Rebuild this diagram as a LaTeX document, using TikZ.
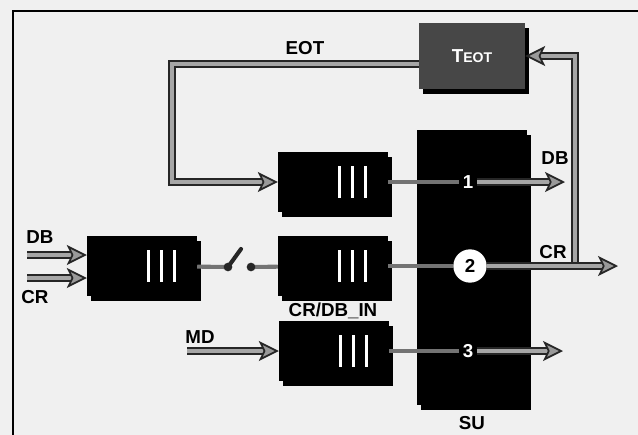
\documentclass[tikz,border=0pt]{standalone}
\usepackage{fontspec}
\setmainfont{Liberation Sans}
\usetikzlibrary{arrows.meta,shadows}
\begin{document}
\begin{tikzpicture}[x=0.3mm,y=-0.3mm,font=\fontsize{16}{18}\selectfont\bfseries]
		\tikzstyle{buffer}=[fill=black,minimum width=33mm,minimum height=18mm,inner sep=0pt,general shadow={fill=black,shadow xshift=1.2mm,shadow yshift=-1.5mm}]
		\tikzstyle{bar}=[white,line width=2.2pt]
		\tikzstyle{flow}=[draw=black!85,double=black!35,line width=1.5pt,double distance=3.2pt,-{Stealth[length=17pt,width=17pt,inset=4pt,fill=black!40]}]
		\tikzstyle{link}=[black!55,line width=3.5pt]

		\useasboundingbox (0,0) rectangle (638,435);
		\fill[black!6] (0,0) rectangle (638,435);
		\draw[line width=1.6pt] (13,440) -- (13,11) -- (640,11);

		\node[fill=black!72,minimum width=31.8mm,minimum height=20mm,text=white,general shadow={fill=black,shadow xshift=1.2mm,shadow yshift=-1.5mm}] (teot) at (472,56) {T{\fontsize{12}{13}\selectfont EOT}};
		\node[buffer,minimum height=82.5mm] (su) at (472,267) {};

		\node[buffer] (buf0) at (142,266) {};
		\node[buffer] (buf1) at (333,182) {};
		\node[buffer] (buf2) at (333,266) {};
		\node[buffer] (buf3) at (334,351) {};
		\foreach \n in {buf0,buf1,buf2,buf3}
			\foreach \dx in {18.6,22.5,26.4}
				\draw[bar] ([xshift=\dx mm,yshift=4.8mm]\n.west) -- ([xshift=\dx mm,yshift=-4.8mm]\n.west);

		\node[text=white] (n1) at (468,182) {1};
		\node[circle,fill=white,minimum size=10mm,inner sep=0pt] (n2) at (470,266) {2};
		\node[text=white] (n3) at (468,351) {3};

		% buffers into SU
		\draw[link] (buf1) -- (n1);
		\draw[link] (buf2) -- (n2);
		\draw[link] (buf3) -- (n3);

		% switch between the input buffer and CR/DB_IN
		\coordinate (swL) at (228,267);
		\coordinate (swR) at (251,267);
		\coordinate (swtip) at (241,249);
		\draw[link] (buf0) -- (swL);
		\draw[link] (swR) -- (buf2);
		\draw[black!85,line width=3.5pt,line cap=round] (swL) -- (swtip);
		\fill[black!85] (swL) circle (1.3mm) (swR) circle (1.3mm);

		% inputs
		\coordinate (dbin) at (27,255);
		\coordinate (crin) at (27,278);
		\coordinate (mdin) at (187,351);
		\draw[flow] (dbin) -- (dbin -| buf0.west);
		\draw[flow] (crin) -- (crin -| buf0.west);
		\draw[flow] (mdin) -- (buf3);

		% EOT loop
		\coordinate (eotleft) at (172,182);
		\draw[flow] ([yshift=-2.4mm]teot.west) -| (eotleft) -- (buf1.west);
		\coordinate (loopfoot) at (575,266);
		\draw[flow] (loopfoot) |- (teot.east);

		% outputs
		\coordinate (out1) at (565,182);
		\coordinate (out2) at (618,266);
		\coordinate (out3) at (563,351);
		\draw[flow] (n1) -- (out1);
		\draw[flow] (n2) -- (out2);
		\draw[flow] (n3) -- (out3);

		\node (eotlab) at (305,48) {EOT};
		\node (dbinlab) at (40,237) {DB};
		\node (crinlab) at (35,297) {CR};
		\node (mdlab) at (200,337) {MD};
		\node (inlab) at (333,311) {CR/DB\_IN};
		\node (sulab) at (472,423) {SU};
		\node (dboutlab) at (555,158) {DB};
		\node (croutlab) at (553,252) {CR};
	\end{tikzpicture}
\end{document}
